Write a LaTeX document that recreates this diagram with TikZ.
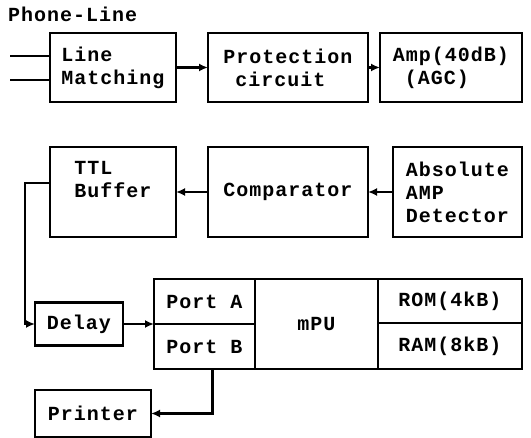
\documentclass[tikz,border=0pt]{standalone}
\usepackage{fontspec}
\setmonofont{Liberation Mono}[LetterSpace=5]
\usepackage{tikz}
\usetikzlibrary{positioning, arrows.meta, calc}

\begin{document}
\begin{tikzpicture}[
                x=1pt, y=-1pt,
                block/.style={draw=black, line width=2.2pt, rectangle, outer sep=0pt, inner sep=2pt, align=left, font=\ttfamily\bfseries\fontsize{20}{23}\selectfont},
                cell/.style={block, align=center},
                edge/.style={line width=2.2pt},
                arrow/.style={edge, -{Latex[length=9pt, width=8pt]}},
                varlabel/.style={font=\ttfamily\bfseries\fontsize{20}{23}\selectfont}
            ]
            \useasboundingbox (0,0) rectangle (531,438);

            % Knoten
            \node[varlabel, anchor=west, inner sep=0pt] (title) at (8,14) {Phone-Line};
            \node[block, anchor=north west, minimum width=126pt, minimum height=69pt] (LM) at (50,33) {Line\\Matching};
            \node[block, right=32pt of LM, minimum width=160pt, minimum height=69pt] (PC) {Protection\\\phantom{A}circuit};
            \node[block, right=12pt of PC, minimum width=142pt, minimum height=69pt] (Amp) {Amp(40dB)\\\phantom{A}(AGC)};

            \node[block, below=45pt of LM, minimum width=126pt, minimum height=90pt, text depth=25pt] (TTL) {TTL\\Buffer};
            \node[cell, right=32pt of TTL, minimum width=160pt, minimum height=90pt] (Comp) {Comparator};
            \node[block, right=25pt of Comp, minimum width=129pt, minimum height=90pt] (Det) {Absolute\\AMP\\Detector};

            \node[cell, anchor=north west, minimum width=101pt, minimum height=45pt] (portA) at (154,279) {Port A};
            \node[cell, below=0pt of portA, minimum width=101pt, minimum height=45pt] (portB) {Port B};
            \node[cell, anchor=north west, minimum width=123pt, minimum height=90pt] (mPU) at (portA.north east) {mPU};
            \node[cell, anchor=north west, minimum width=144pt, minimum height=44pt] (ROM) at (mPU.north east) {ROM(4kB)};
            \node[cell, below=0pt of ROM, minimum width=144pt, minimum height=46pt] (RAM) {RAM(8kB)};

            \node[cell, left=31pt of portA.south west, minimum width=88pt, minimum height=43pt] (Delay) {Delay};
            \node[cell, anchor=north west, minimum width=116pt, minimum height=47pt] (Printer) at (35,390) {Printer};

            \coordinate (lineA) at (10,56);
            \coordinate (lineB) at (10,80);

            % Kanten zwischen Knoten
            \draw[edge] (lineA) -- (lineA -| LM.west);
            \draw[edge] (lineB) -- (lineB -| LM.west);
            \draw[arrow] (LM) -- (PC);
            \draw[arrow] (PC) -- (Amp);
            \draw[arrow] (Det) -- (Comp);
            \draw[arrow] (Comp) -- (TTL.east |- Comp.west);
            \draw[arrow] ([yshift=9pt]TTL.west |- Comp.west) -- ++(-25,0) |- (Delay.west);
            \draw[arrow] (Delay.east) -- (Delay.east -| portA.west);
            \draw[arrow] ([xshift=8pt]portB.south) |- (Printer.east);

        \end{tikzpicture}
\end{document}
